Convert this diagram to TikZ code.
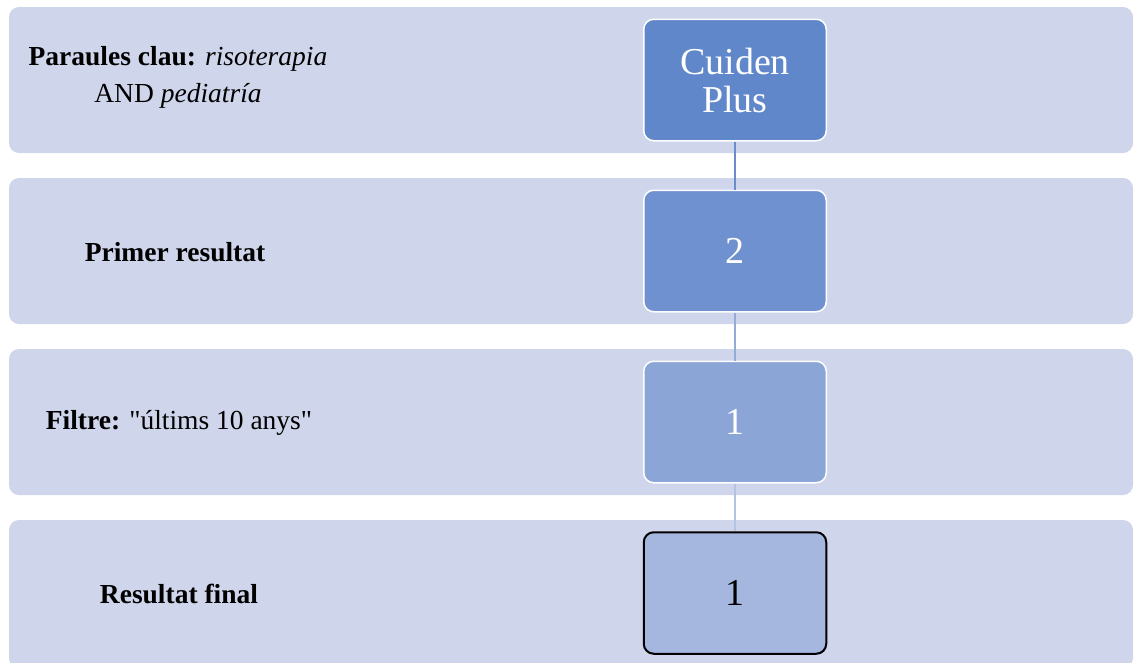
\documentclass[tikz,border=0pt]{standalone}
\usepackage{fontspec}
\setmainfont{Liberation Serif}
\usetikzlibrary{positioning,calc}
\definecolor{bandfill}{HTML}{CFD5EA}
\definecolor{boxa}{HTML}{5F87CA}
\definecolor{boxb}{HTML}{6F91CF}
\definecolor{boxc}{HTML}{8AA5D6}
\definecolor{boxd}{HTML}{A5B7DF}
\definecolor{linea}{HTML}{6A8CCB}
\definecolor{lineb}{HTML}{93ABD9}
\definecolor{linec}{HTML}{B4C2E4}

\begin{document}
\begin{tikzpicture}[x=1pt,y=-1pt,
    band/.style={fill=bandfill,rounded corners=10pt},
    stepbox/.style={rounded corners=10pt,minimum width=182.5pt,minimum height=121.5pt,line width=1.5pt,draw=white,text=white,align=center,font=\fontsize{38}{38}\selectfont},
    lbl/.style={align=center,font=\fontsize{27.5}{37}\selectfont},
    conn/.style={line width=2pt}]
			\useasboundingbox (0,0) rectangle (1135,662);
			\clip (0,0) rectangle (1135,662);
			% bands
			\fill[band] (9,7) rectangle (1133,153);
			\fill[band] (9,178) rectangle (1133,324);
			\fill[band] (9,349) rectangle (1133,495);
			\fill[band] (9,520) rectangle (1133,668);
			% labels
			\node[lbl] (kw) at (178,77) {\textbf{Paraules clau:} \textit{risoterapia}\\AND \textit{pediatría}};
			\node[lbl] (prim) at (175,252) {\textbf{Primer resultat}};
			\node[lbl] (filt) at (179,423) {\textbf{Filtre:} \textquotedbl últims 10 anys\textquotedbl};
			\node[lbl] (fin) at (179,594) {\textbf{Resultat final}};
			% boxes
			\node[stepbox,fill=boxa] (cuiden) at (735,80) {Cuiden\\Plus};
			\node[stepbox,fill=boxb] (primer) at (735,251) {2};
			\node[stepbox,fill=boxc] (filtre) at (735,422) {1};
			\node[stepbox,fill=boxd,draw=black,line width=2pt,text=black] (final) at (735,593) {1};
			\draw[conn,linea] (cuiden.south) -- (primer.north);
			\draw[conn,lineb] (primer.south) -- (filtre.north);
			\draw[conn,linec] (filtre.south) -- (final.north);
		\end{tikzpicture}
\end{document}
